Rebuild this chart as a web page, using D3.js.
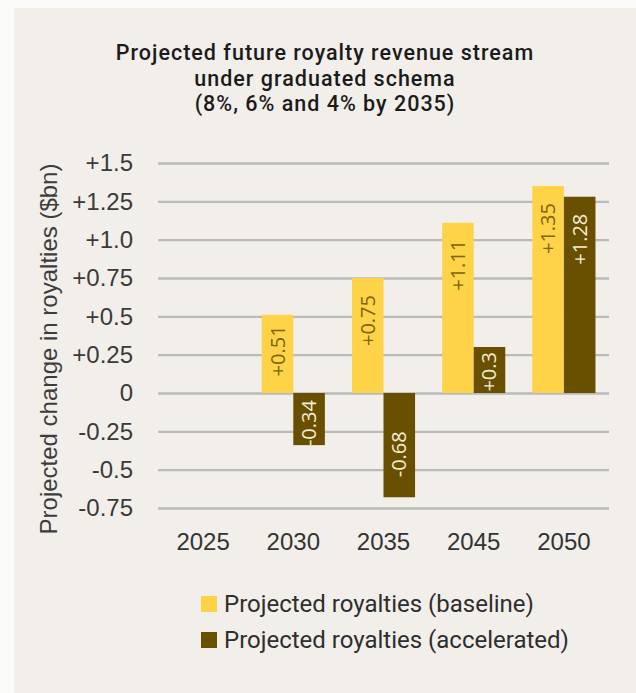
<!DOCTYPE html>
<html>
<head>
<meta charset="utf-8">
<script src="https://cdn.jsdelivr.net/npm/d3@7"></script>
<style>
  html, body { margin: 0; padding: 0; background: #fbfbfa; }
  svg { display: block; }
</style>
</head>
<body>
<svg id="chart" width="636" height="693"></svg>
<script>
// Projected royalty changes ($bn) by year, two schedules
const years = ["2025", "2030", "2035", "2045", "2050"];
const baseline = [null, 0.51, 0.75, 1.11, 1.35];
const accelerated = [null, -0.34, -0.68, 0.30, 1.28];
const seriesNames = ["Projected royalties (baseline)", "Projected royalties (accelerated)"];
const tickValues = [-0.75, -0.5, -0.25, 0, 0.25, 0.5, 0.75, 1.0, 1.25, 1.5];
const tickLabels = ["-0.75", "-0.5", "-0.25", "0", "+0.25", "+0.5", "+0.75", "+1.0", "+1.25", "+1.5"];
const barLabels = [
  [null, "+0.51", "+0.75", "+1.11", "+1.35"],
  [null, "-0.34", "-0.68", "+0.3", "+1.28"]
];
const titleLines = [
  "Projected future royalty revenue stream",
  "under graduated schema",
  "(8%, 6% and 4% by 2035)"
];

const colors = ["#ffd348", "#695000"];
const labelColors = ["#7d6508", "#f4ecd4"];

const svg = d3.select("#chart");

// background panel
svg.append("rect")
  .attr("x", 14).attr("y", 8)
  .attr("width", 636 - 14).attr("height", 693 - 8)
  .attr("fill", "#f2efea");

// title
svg.append("g")
  .selectAll("text")
  .data(titleLines)
  .join("text")
  .attr("x", 325)
  .attr("y", (d, i) => 60 + i * 25.5)
  .attr("text-anchor", "middle")
  .attr("font-family", "Roboto, 'Noto Sans', sans-serif")
  .attr("font-weight", 500)
  .attr("font-size", 21.5)
  .attr("letter-spacing", 1)
  .attr("fill", "#1b1b1b")
  .text(d => d);

const plot = { left: 158, right: 609, top: 163, bottom: 508 };

const y = d3.scaleLinear().domain([-0.75, 1.5]).range([plot.bottom, plot.top]);
const x0 = d3.scaleBand().domain(years).range([plot.left, plot.right])
  .paddingInner(0.3).paddingOuter(0.15);
const x1 = d3.scaleBand().domain([0, 1]).range([0, x0.bandwidth()]).padding(0);

// gridlines + y tick labels via axis
const yAxis = d3.axisLeft(y)
  .tickValues(tickValues)
  .tickSize(-(plot.right - plot.left))
  .tickPadding(25)
  .tickFormat((d, i) => tickLabels[i]);

const gy = svg.append("g")
  .attr("transform", `translate(${plot.left},0)`)
  .call(yAxis);
gy.select(".domain").remove();
gy.selectAll(".tick line")
  .attr("stroke", "#bababa")
  .attr("stroke-width", 2.4);
gy.selectAll(".tick text")
  .attr("font-family", "'Liberation Sans', Arial, sans-serif")
  .attr("font-size", 24)
  .attr("fill", "#3a3a3a");

// x axis labels
const xAxis = d3.axisBottom(x0).tickSize(0).tickPadding(0);
const gx = svg.append("g")
  .attr("transform", `translate(0,${plot.bottom + 25})`)
  .call(xAxis);
gx.select(".domain").remove();
gx.selectAll(".tick text")
  .attr("font-family", "'Liberation Sans', Arial, sans-serif")
  .attr("font-size", 24)
  .attr("fill", "#333")
  .attr("dy", "0.71em");

// y axis title
svg.append("text")
  .attr("transform", `translate(57,349) rotate(-90)`)
  .attr("text-anchor", "middle")
  .attr("font-family", "'Liberation Sans', Arial, sans-serif")
  .attr("font-size", 24)
  .attr("fill", "#3d3d3d")
  .text("Projected change in royalties ($bn)");

// bars
const rows = [];
years.forEach((yr, i) => {
  [baseline[i], accelerated[i]].forEach((v, s) => {
    if (v !== null) rows.push({ year: yr, s, v, label: barLabels[s][i] });
  });
});

const bars = svg.append("g");
bars.selectAll("rect")
  .data(rows)
  .join("rect")
  .attr("x", d => x0(d.year) + x1(d.s))
  .attr("width", x1.bandwidth())
  .attr("y", d => y(Math.max(0, d.v)))
  .attr("height", d => Math.abs(y(d.v) - y(0)))
  .attr("fill", d => colors[d.s]);

// value labels, rotated, inside the bars
const labels = svg.append("g")
  .selectAll("text")
  .data(rows)
  .join("text")
  .attr("font-family", "'Open Sans', 'Noto Sans', sans-serif")
  .attr("font-size", 20)
  .attr("fill", d => labelColors[d.s])
  .text(d => d.label);

labels.each(function (d) {
  const len = this.getComputedTextLength();
  const cx = x0(d.year) + x1(d.s) + x1.bandwidth() / 2;
  const top = y(Math.max(0, d.v));
  const bottom = y(Math.min(0, d.v));
  const barLen = bottom - top;
  let startY;
  if (d.v >= 0) {
    const pad = Math.min(17, Math.max(5, (barLen - len) / 2 - 3));
    startY = top + pad + len;
  } else {
    const pad = Math.min(20, (barLen - len) / 2 - 4);
    startY = bottom - pad;
  }
  d3.select(this)
    .attr("text-anchor", "start")
    .attr("transform", `translate(${cx},${startY}) rotate(-90)`)
    .attr("dy", "0.35em");
});

// legend
const legend = svg.append("g");
const lg = legend.selectAll("g")
  .data(seriesNames)
  .join("g")
  .attr("transform", (d, i) => `translate(201,${604 + i * 36})`);
lg.append("rect")
  .attr("x", 0).attr("y", -8)
  .attr("width", 16).attr("height", 16)
  .attr("fill", (d, i) => colors[i]);
lg.append("text")
  .attr("x", 23)
  .attr("dy", "0.35em")
  .attr("font-family", "Roboto, 'Noto Sans', sans-serif")
  .attr("font-size", 24)
  .attr("fill", "#2e2e2e")
  .text(d => d);
</script>
</body>
</html>
